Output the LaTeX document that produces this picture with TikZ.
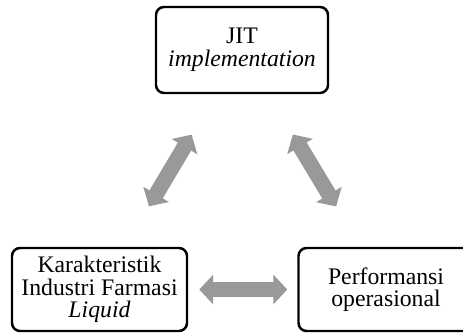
\documentclass[tikz,border=0pt]{standalone}
\usepackage{fontspec}
\setmainfont{Liberation Serif}
\usetikzlibrary{arrows.meta}
\tikzset{
  factor/.style={rectangle,draw,line width=1.4pt,rounded corners=1.6mm,align=center,
    font=\fontsize{13.5}{12.8}\selectfont,minimum width=35mm,minimum height=16.6mm},
  fat/.style={draw=gray!80,line width=3.1mm,
    {Triangle[length=2.8mm,width=5.8mm]}-{Triangle[length=2.8mm,width=5.8mm]}}
}
\begin{document}
\begin{tikzpicture}[x=0.2mm,y=-0.2mm]
      \useasboundingbox (0,0) rectangle (463,333);
      \node[factor,minimum width=34.4mm,minimum height=17.2mm] (jit) at (242,50) {JIT\\\textit{implementation}};
      \node[factor] (liquid) at (99.5,289.5) {Karakteristik\\Industri Farmasi\\\textit{Liquid}};
      \node[factor] (perf) at (386,289.5) {Performansi\\operasional};
      \draw[fat,shorten <=9.4mm,shorten >=9.4mm] (jit) -- (liquid);
      \draw[fat,shorten <=9.4mm,shorten >=9.4mm] (jit) -- (perf);
      \draw[fat,shorten <=2.2mm,shorten >=2mm] (liquid) -- (perf);
    \end{tikzpicture}
\end{document}
